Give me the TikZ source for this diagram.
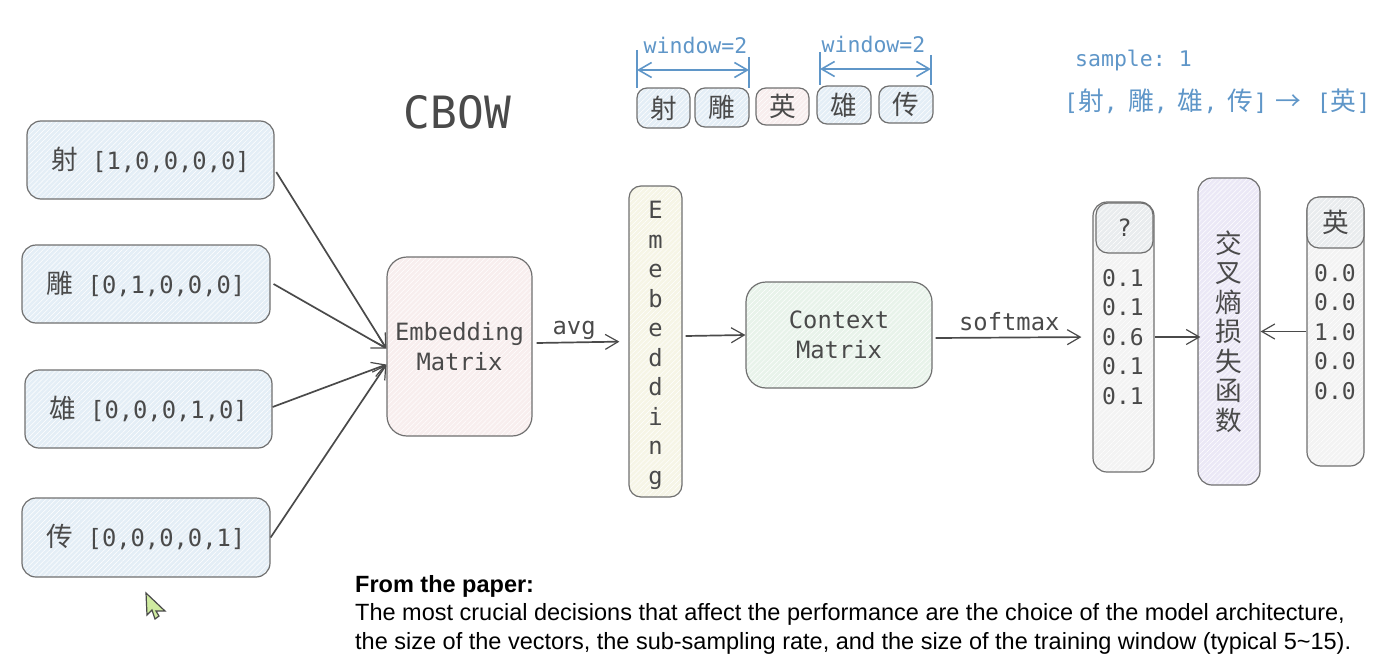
\documentclass[tikz,border=0pt]{standalone}
\usepackage{fontspec}
\setmainfont{Liberation Sans}
\setmonofont{DejaVu Sans Mono}
\newfontfamily\zhfont[Scale=1.12]{Noto Sans CJK SC}
\usetikzlibrary{arrows.meta, patterns.meta}
\definecolor{inkGray}{HTML}{4A4A4A}
\definecolor{edgeGray}{HTML}{707070}
\definecolor{noteBlue}{HTML}{5F96C8}
\definecolor{fillBlue}{HTML}{E4EEF6}
\definecolor{fillRose}{HTML}{F8EEEE}
\definecolor{fillCream}{HTML}{F6F5E6}
\definecolor{fillMint}{HTML}{E8F3EA}
\definecolor{fillLilac}{HTML}{EBE8F6}
\definecolor{fillPale}{HTML}{F3F3F3}
\definecolor{fillHead}{HTML}{E9ECEE}
\definecolor{cursorGreen}{HTML}{CFEBA0}
\newcommand{\zh}[1]{{\zhfont #1}}
\newcommand{\boxfont}{\ttfamily\fontsize{23.8}{29.5}\selectfont}

\begin{document}
\begin{tikzpicture}[x=1pt, y=-1pt, text=inkGray,
HatchBox/.style={draw=edgeGray, line width=1.2pt, inner sep=0pt, align=center, font=\boxfont,
  preaction={fill=#1}, pattern={Lines[angle=45, distance=3.5pt, line width=0.5pt]}, pattern color=white},
Flow/.style={-{Straight Barb[length=13pt, width=15pt, line width=1.2pt]}, draw=inkGray, line width=1.7pt},
NoteFlow/.style={{Straight Barb[length=13pt, width=15pt]}-{Straight Barb[length=13pt, width=15pt]}, draw=noteBlue, line width=1.6pt},
NoteTick/.style={draw=noteBlue, line width=1.2pt},
NoteText/.style={text=noteBlue, font=\ttfamily\fontsize{21.5}{26}\selectfont, inner sep=0pt},
ValueText/.style={font=\ttfamily\fontsize{23}{29.5}\selectfont, align=center, inner sep=0pt}]
\useasboundingbox (0,0) rectangle (1399,669);
\foreach \name/\cx/\cy/\wid/\hgt/\rad/\col/\txt in {
  {wordShe/150.5/160/247/78/14/fillBlue/\zh{射} [1,0,0,0,0]},
  {wordDiao/146/284/248/78/14/fillBlue/\zh{雕} [0,1,0,0,0]},
  {wordXiong/148.5/409/247/78/14/fillBlue/\zh{雄} [0,0,0,1,0]},
  {wordChuan/146/537.5/248/79/14/fillBlue/\zh{传} [0,0,0,0,1]},
  {embedMatrix/459.5/346.5/145/179/20/fillRose/Embedding\\Matrix},
  {embedCol/655.5/341.5/53/311/12/fillCream/\rule{0pt}{25pt}E\\m\\e\\b\\e\\d\\d\\i\\n\\g},
  {contextMatrix/839/335/186/106/20/fillMint/Context\\Matrix},
  {predCol/1123.5/337/61/270/14/fillPale/{}},
  {lossCol/1229/331.5/62/307/14/fillLilac/\zh{交}\\\zh{叉}\\\zh{熵}\\\zh{损}\\\zh{失}\\\zh{函}\\\zh{数}},
  {truthCol/1335.5/331.5/57/269/14/fillPale/{}},
  {predHead/1124.5/228/57/50/12/fillHead/?},
  {truthHead/1335.5/222.5/57/51/12/fillHead/\zh{英}},
  {seqShe/663.5/108/53/40/10/fillBlue/\zh{射}},
  {seqDiao/722/107.5/54/39/10/fillBlue/\zh{雕}},
  {seqYing/782.5/106.5/53/37/10/fillRose/\zh{英}},
  {seqXiong/844/105/54/38/10/fillBlue/\zh{雄}},
  {seqChuan/906/104.5/54/37/10/fillBlue/\zh{传}}%
} {
  \node [HatchBox=\col, rounded corners=\rad pt, minimum width=\wid pt, minimum height=\hgt pt] (\name) at (\cx, \cy) {\txt};
}
\node [ValueText] (predVals) at (1123, 337) {0.1\\0.1\\0.6\\0.1\\0.1};
\node [ValueText] (truthVals) at (1335, 332) {0.0\\0.0\\1.0\\0.0\\0.0};
\node [font=\ttfamily\fontsize{44.5}{50}\selectfont, inner sep=0pt] (titleText) at (457.5, 112) {CBOW};
\draw [Flow] ([xshift=2pt, yshift=-12pt]wordShe.east) -- ([yshift=-2pt]embedMatrix.west);
\draw [Flow] ([xshift=3pt]wordDiao.east) -- ([yshift=-2pt]embedMatrix.west);
\draw [Flow] ([yshift=2pt]wordXiong.east) -- ([yshift=-18pt]embedMatrix.west);
\draw [Flow] (wordChuan.east) -- ([yshift=-18pt]embedMatrix.west);
\draw [Flow, shorten >=9pt] ([xshift=4pt, yshift=3.5pt]embedMatrix.east) -- node [above=2pt, font=\boxfont, inner sep=0pt, xshift=-1pt, pos=0.42] (avgText) {avg} (embedCol.west);
\draw [Flow] ([xshift=3pt, yshift=5.5pt]embedCol.east) -- (contextMatrix.west);
\draw [Flow, shorten >=11pt] ([xshift=3pt, yshift=-3pt]contextMatrix.east) -- node [above=6pt, font=\boxfont, inner sep=0pt, pos=0.47] (softmaxText) {softmax} (predCol.west);
\draw [Flow] (predCol.east) -- ([xshift=3pt, yshift=-5.5pt]lossCol.west);
\draw [Flow] (truthCol.west) -- (lossCol.east);
\coordinate (tickAt) at (637, 50);
\coordinate (tickAb) at (637, 88);
\coordinate (tickBt) at (749, 57);
\coordinate (tickBb) at (749, 88);
\coordinate (tickCt) at (820, 52);
\coordinate (tickCb) at (820, 85);
\coordinate (tickDt) at (931, 55);
\coordinate (tickDb) at (931, 85);
\coordinate (spanAl) at (637, 70);
\coordinate (spanAr) at (749, 70);
\coordinate (spanBl) at (820, 69);
\coordinate (spanBr) at (931, 69);
\draw [NoteTick] (tickAt) -- (tickAb);
\draw [NoteTick] (tickBt) -- (tickBb);
\draw [NoteTick] (tickCt) -- (tickCb);
\draw [NoteTick] (tickDt) -- (tickDb);
\draw [NoteFlow] (spanAl) -- (spanAr);
\draw [NoteFlow] (spanBl) -- (spanBr);
\node [NoteText] (windowLeft) at (695.5, 45.5) {window=2};
\node [NoteText] (windowRight) at (873.5, 44.5) {window=2};
\node [NoteText, anchor=west] (sampleText) at (1075, 61) {sample: 1};
\node [NoteText, anchor=west, font=\ttfamily\fontsize{23}{26}\selectfont] (sampleMap) at (1064, 101) {[\zh{射},\hspace{-3.5pt} \zh{雕},\hspace{-3.5pt} \zh{雄},\hspace{-3.5pt} \zh{传}] \hspace{-6pt}\zh{→}\hspace{2pt} [\zh{英}]};
\node [anchor=north west, inner sep=0pt, align=left, text=black, font=\fontsize{23.5}{28.5}\selectfont] (paperNote) at (355, 575) {\textbf{From the paper:}\\The most crucial decisions that affect the performance are the choice of the model architecture,\\the size of the vectors, the sub-sampling rate, and the size of the training window (typical 5\textasciitilde 15).};
\draw [fill=cursorGreen, draw=inkGray, line width=1.2pt] (146,593) -- (147,615) -- (152,610) -- (155,619) -- (159,616) -- (156,611) -- (165,611) -- cycle;
\end{tikzpicture}
\end{document}
